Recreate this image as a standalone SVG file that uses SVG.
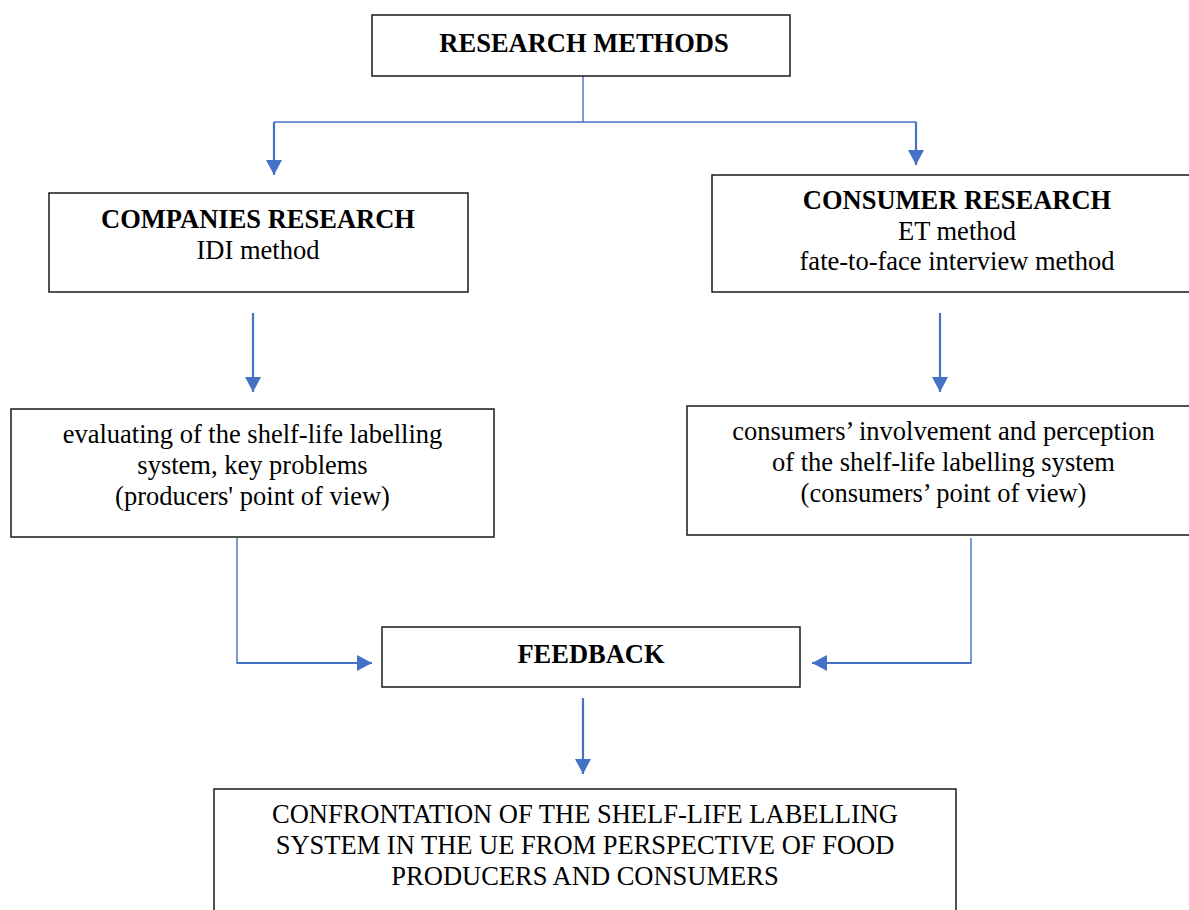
<svg xmlns="http://www.w3.org/2000/svg" width="1189" height="910" viewBox="0 0 1189 910">
<style>
.box{fill:#fff;stroke:#1a1a1a;stroke-width:1.5}
.t{font-family:"Liberation Serif","Times New Roman",serif;font-size:26.5px;fill:#000;text-anchor:middle}
.b{font-weight:bold}
.thin{fill:none;stroke:#4472C4;stroke-width:1.4}
.arr{fill:none;stroke:#4472C4;stroke-width:2.2;marker-end:url(#ah)}
</style>
<defs>
<marker id="ah" markerUnits="userSpaceOnUse" markerWidth="15" markerHeight="16" refX="15" refY="8" orient="auto">
<path d="M0,0 L15,8 L0,16 z" fill="#4472C4"/>
</marker>
</defs>
<rect width="1189" height="910" fill="#fff"/>
<g id="connectors">
<path class="thin" d="M583,76 V122 M274,122 H916"/>
<path class="arr" d="M274,122 V175"/>
<path class="arr" d="M916,122 V165"/>
<path class="arr" d="M253,313 V392"/>
<path class="arr" d="M940,313 V392"/>
<path class="thin" d="M237,538 V663"/>
<path class="arr" d="M236.5,663 H372"/>
<path class="thin" d="M971,538 V663"/>
<path class="arr" d="M971.5,663 H812"/>
<path class="arr" d="M583,698 V774"/>
</g>
<g id="research-methods">
<rect class="box" x="372" y="15" width="418" height="61"/>
<text class="t b" x="584" y="52">RESEARCH METHODS</text>
</g>
<g id="companies-research">
<rect class="box" x="49" y="193" width="419" height="99"/>
<text class="t b" x="258" y="228">COMPANIES RESEARCH</text>
<text class="t" x="258" y="259">IDI method</text>
</g>
<g id="consumer-research">
<rect class="box" x="712" y="175" width="500" height="117"/>
<text class="t b" x="957" y="209">CONSUMER RESEARCH</text>
<text class="t" x="957" y="240">ET method</text>
<text class="t" x="957" y="270">fate-to-face interview method</text>
</g>
<g id="producers-view">
<rect class="box" x="11" y="409" width="483" height="128"/>
<text class="t" x="252.5" y="443">evaluating of the shelf-life labelling</text>
<text class="t" x="252.5" y="474">system, key problems</text>
<text class="t" x="252.5" y="505">(producers' point of view)</text>
</g>
<g id="consumers-view">
<rect class="box" x="687" y="406" width="525" height="129"/>
<text class="t" x="943.5" y="440">consumers’ involvement and perception</text>
<text class="t" x="943.5" y="471">of the shelf-life labelling system</text>
<text class="t" x="943.5" y="502">(consumers’ point of view)</text>
</g>
<g id="feedback">
<rect class="box" x="382" y="627" width="418" height="60"/>
<text class="t b" x="591" y="663">FEEDBACK</text>
</g>
<g id="confrontation">
<rect class="box" x="214" y="789" width="742" height="140"/>
<text class="t" x="585" y="823">CONFRONTATION OF THE SHELF-LIFE LABELLING</text>
<text class="t" x="585" y="854">SYSTEM IN THE UE FROM PERSPECTIVE OF FOOD</text>
<text class="t" x="585" y="885">PRODUCERS AND CONSUMERS</text>
</g>
</svg>
